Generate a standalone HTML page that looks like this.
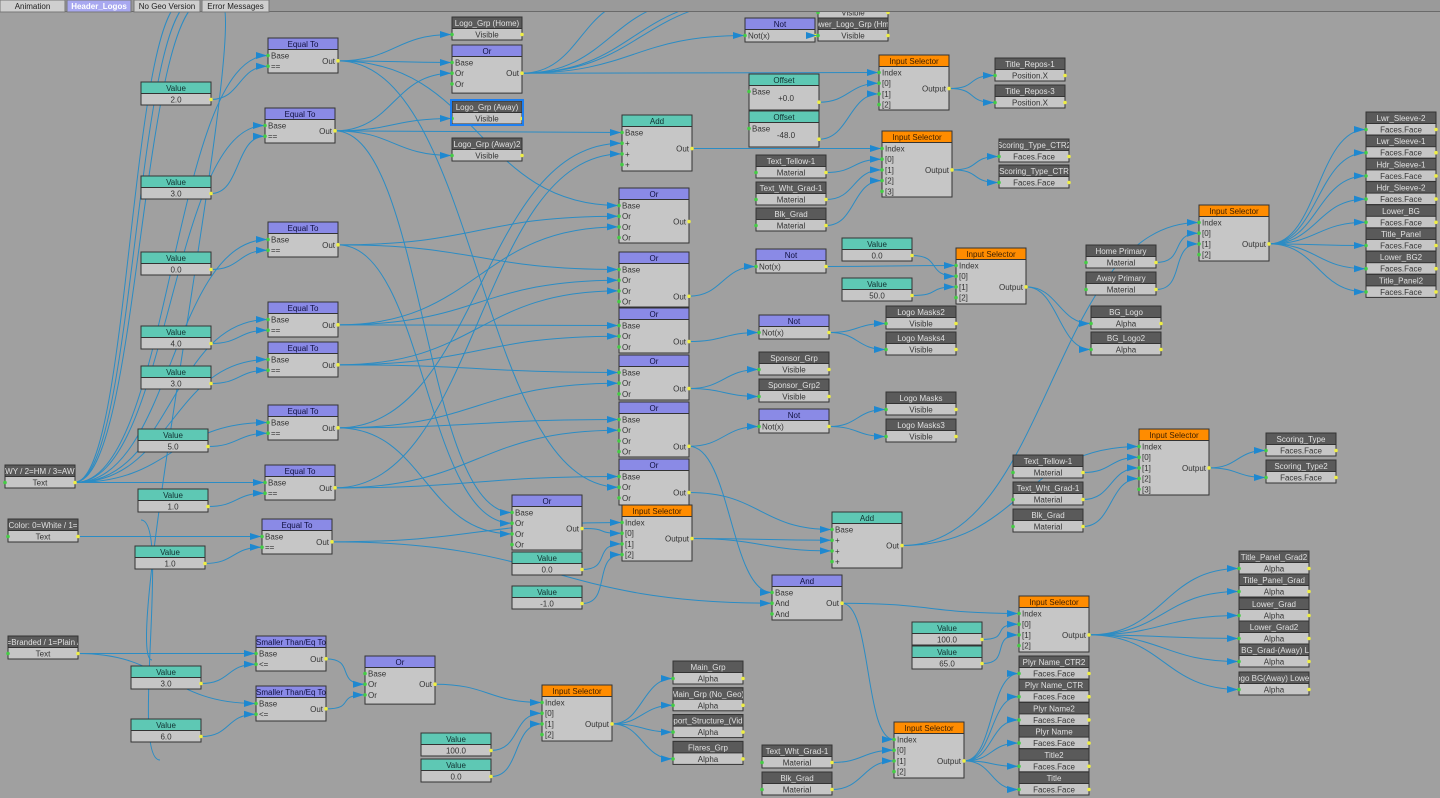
<!DOCTYPE html>
<html><head><meta charset="utf-8"><style>
html,body{margin:0;padding:0;background:#a0a0a0;width:1440px;height:798px;overflow:hidden}
svg{display:block;font-family:"Liberation Sans",sans-serif}
</style></head><body>
<svg id="s" width="1440" height="798" xmlns="http://www.w3.org/2000/svg"></svg>
<script>
const S=document.getElementById('s');
let wires='',nodesSvg='',arrows='',clips='';let cid=0;
const N={};
const HC={p:'#8a8ae6',t:'#5ec8b4',o:'#ff8c00',d:'#5a5a5a'};
const TC={p:'#101040',t:'#103030',o:'#402000',d:'#e0e0e0'};
function esc(s){return s.replace(/&/g,'&amp;').replace(/</g,'&lt;')}
function clip(x,y,w,h){cid++;clips+=`<clipPath id="c${cid}"><rect x="${x}" y="${y}" width="${w}" height="${h}"/></clipPath>`;return `clip-path="url(#c${cid})"`;}
function sn(id,x,y,k,title,body,w){w=w||70;N[id]={x,y,w,simple:true};
 nodesSvg+=`<rect x="${x}" y="${y}" width="${w}" height="23" fill="#c6c6c6" stroke="#333"/>`+
 `<rect x="${x}" y="${y}" width="${w}" height="11.5" fill="${HC[k]}" stroke="#333"/>`+
 `<text ${clip(x,y,w,12)} x="${x+w/2}" y="${y+9}" font-size="8" text-anchor="middle" fill="${TC[k]}">${esc(title)}</text>`+
 `<text x="${x+w/2}" y="${y+20.5}" font-size="8" text-anchor="middle" fill="#333">${esc(body)}</text>`+
 `<circle cx="${x+w}" cy="${y+17.5}" r="1.8" fill="#ee4"/>`+(k=='d'||k=='p'?`<circle cx="${x}" cy="${y+17.5}" r="1.8" fill="#4c4"/>`:'');}
function on(id,x,y,k,title,rows,outRow,outLbl,h,w){w=w||70;const n=rows.length;h=h||(12+n*10.7+4);N[id]={x,y,w,simple:false,out:outRow};
 nodesSvg+=`<rect x="${x}" y="${y}" width="${w}" height="${h}" fill="#c6c6c6" stroke="#333"/>`+
 `<rect x="${x}" y="${y}" width="${w}" height="11.5" fill="${HC[k]}" stroke="#333"/>`+
 `<text ${clip(x,y,w,12)} x="${x+w/2}" y="${y+9}" font-size="8" text-anchor="middle" fill="${TC[k]}">${esc(title)}</text>`;
 rows.forEach((r,i)=>{const ry=y+17.5+i*10.7;nodesSvg+=`<circle cx="${x}" cy="${ry}" r="1.8" fill="#4c4"/><text x="${x+3}" y="${ry+3}" font-size="8" fill="#333">${esc(r)}</text>`;});
 const oy=y+17.5+outRow*10.7;
 nodesSvg+=`<text x="${x+w-3}" y="${oy+3}" font-size="8" text-anchor="end" fill="#333">${outLbl}</text><circle cx="${x+w}" cy="${oy}" r="1.8" fill="#ee4"/>`;}
function op(id){const n=N[id];return n.simple?[n.x+n.w,n.y+17.5]:[n.x+n.w,n.y+17.5+n.out*10.7];}
function ip(id,r){const n=N[id];return n.simple?[n.x,n.y+17.5]:[n.x,n.y+17.5+(r||0)*10.7];}
function w(a,b,r){const p=op(a),q=ip(b,r);const dx=Math.max(30,Math.abs(q[0]-p[0])*0.5);
 wires+=`<path d="M${p[0]} ${p[1]} C${p[0]+dx} ${p[1]} ${q[0]-dx} ${q[1]} ${q[0]} ${q[1]}"/>`;
 arrows+=`<polygon points="${q[0]-12},${q[1]-3.5} ${q[0]-1},${q[1]} ${q[0]-12},${q[1]+3.5}"/>`;}
function wp(p,q){const dx=Math.max(30,Math.abs(q[0]-p[0])*0.5);wires+=`<path d="M${p[0]} ${p[1]} C${p[0]+dx} ${p[1]} ${q[0]-dx} ${q[1]} ${q[0]} ${q[1]}"/>`;}

sn('t1',5,465,'d','AWY / 2=HM / 3=AWY','Text');
sn('t2',8,519,'d','Color: 0=White / 1=','Text');
sn('t3',8,636,'d','=Branded / 1=Plain /','Text');
sn('v1',141,82,'t','Value','2.0');sn('v2',141,176,'t','Value','3.0');sn('v3',141,252,'t','Value','0.0');
sn('v4',141,326,'t','Value','4.0');sn('v5',141,366,'t','Value','3.0');sn('v6',138,429,'t','Value','5.0');
sn('v7',138,489,'t','Value','1.0');sn('v8',135,546,'t','Value','1.0');sn('v9',131,666,'t','Value','3.0');sn('v10',131,719,'t','Value','6.0');
const E=['Base','=='];
on('e1',268,38,'p','Equal To',E,0.5,'Out',35);on('e2',265,108,'p','Equal To',E,0.5,'Out',35);
on('e3',268,222,'p','Equal To',E,0.5,'Out',35);on('e4',268,302,'p','Equal To',E,0.5,'Out',35);
on('e5',268,342,'p','Equal To',E,0.5,'Out',35);on('e6',268,405,'p','Equal To',E,0.5,'Out',35);
on('e7',265,465,'p','Equal To',E,0.5,'Out',35);on('e8',262,519,'p','Equal To',E,0.5,'Out',35);
on('s1',256,636,'p','Smaller Than/Eq To',['Base','<='],0.5,'Out',35);
on('s2',256,686,'p','Smaller Than/Eq To',['Base','<='],0.5,'Out',35);
on('o0',365,656,'p','Or',['Base','Or','Or'],1,'Out');
sn('top1',452,-12,'d','','Visible');
sn('lh',452,17,'d','Logo_Grp (Home)','Visible');
on('o1',452,45,'p','Or',['Base','Or','Or'],1,'Out');
sn('la',452,101,'d','Logo_Grp (Away)','Visible');
sn('la2',452,138,'d','Logo_Grp (Away)2','Visible');
on('a1',622,115,'t','Add',['Base','+','+','+'],1.5,'Out',56);
on('r1',619,188,'p','Or',['Base','Or','Or','Or'],1.5,'Out',55);
on('r2',619,252,'p','Or',['Base','Or','Or','Or'],2.5,'Out',55);
on('r3',619,308,'p','Or',['Base','Or','Or'],1.5,'Out',45);
on('r4',619,355,'p','Or',['Base','Or','Or'],1.5,'Out',45);
on('r5',619,402,'p','Or',['Base','Or','Or','Or'],2.5,'Out',55);
on('r6',619,459,'p','Or',['Base','Or','Or'],1.5,'Out',46);
on('r7',512,495,'p','Or',['Base','Or','Or','Or'],1.5,'Out',55);
on('is1',622,505,'o','Input Selector',['Index',' [0]',' [1]',' [2]'],1.5,'Output',56);
sn('v11',512,552,'t','Value','0.0');sn('v12',512,586,'t','Value','-1.0');
on('a2',832,512,'t','Add',['Base','+','+','+'],1.5,'Out',56);
on('and',772,575,'p','And',['Base','And','And'],1,'Out',45);
sn('top2',745,-12,'d','','Visible');
on('n0',745,18,'p','Not',['Not(x)'],0,'',24);
sn('top3',818,-5,'d','','Visible');
sn('lw',818,18,'d','ower_Logo_Grp (Hm)','Visible');
on('of1',749,74,'t','Offset',['Base'],1,'',36);
on('of2',749,111,'t','Offset',['Base'],1,'',36);
nodesSvg+=`<text x="786" y="101" font-size="8" text-anchor="middle" fill="#333">+0.0</text><text x="786" y="138" font-size="8" text-anchor="middle" fill="#333">-48.0</text>`;
on('is2',879,55,'o','Input Selector',['Index',' [0]',' [1]',' [2]'],1.5,'Output',55);
sn('tr1',995,58,'d','Title_Repos-1','Position.X');sn('tr3',995,85,'d','Title_Repos-3','Position.X');
sn('m1',756,155,'d','Text_Tellow-1','Material');sn('m2',756,182,'d','Text_Wht_Grad-1','Material');sn('m3',756,208,'d','Blk_Grad','Material');
on('is3',882,131,'o','Input Selector',['Index',' [0]',' [1]',' [2]',' [3]'],2,'Output',66);
sn('sc2',999,139,'d','Scoring_Type_CTR2','Faces.Face');sn('sc1',999,165,'d','Scoring_Type_CTR','Faces.Face');
on('n1',756,249,'p','Not',['Not(x)'],0,'',24);
sn('v13',842,238,'t','Value','0.0');sn('v14',842,278,'t','Value','50.0');
on('is4',956,248,'o','Input Selector',['Index',' [0]',' [1]',' [2]'],2,'Output',56);
sn('bg1',1091,306,'d','BG_Logo','Alpha');sn('bg2',1091,332,'d','BG_Logo2','Alpha');
on('n2',759,315,'p','Not',['Not(x)'],0,'',24);
sn('lm2',886,306,'d','Logo Masks2','Visible');sn('lm4',886,332,'d','Logo Masks4','Visible');
sn('sp1',759,352,'d','Sponsor_Grp','Visible');sn('sp2',759,379,'d','Sponsor_Grp2','Visible');
on('n3',759,409,'p','Not',['Not(x)'],0,'',24);
sn('lm',886,392,'d','Logo Masks','Visible');sn('lm3',886,419,'d','Logo Masks3','Visible');
sn('hp',1086,245,'d','Home Primary','Material');sn('ap',1086,272,'d','Away Primary','Material');
on('is5',1199,205,'o','Input Selector',['Index',' [0]',' [1]',' [2]'],2,'Output',56);
const fs=['Lwr_Sleeve-2','Lwr_Sleeve-1','Hdr_Sleeve-1','Hdr_Sleeve-2','Lower_BG','Title_Panel','Lower_BG2','Title_Panel2'];
fs.forEach((t,i)=>sn('f'+i,1366,112+i*23.2,'d',t,'Faces.Face'));
sn('m4',1013,455,'d','Text_Tellow-1','Material');sn('m5',1013,482,'d','Text_Wht_Grad-1','Material');sn('m6',1013,509,'d','Blk_Grad','Material');
on('is6',1139,429,'o','Input Selector',['Index',' [0]',' [1]',' [2]',' [3]'],2,'Output',66);
sn('st1',1266,433,'d','Scoring_Type','Faces.Face');sn('st2',1266,460,'d','Scoring_Type2','Faces.Face');
sn('v15',912,622,'t','Value','100.0');sn('v16',912,646,'t','Value','65.0');
on('is7',1019,596,'o','Input Selector',['Index',' [0]',' [1]',' [2]'],2,'Output',56);
const al=['Title_Panel_Grad2','Title_Panel_Grad','Lower_Grad','Lower_Grad2','o BG_Grad-(Away) Lo','ogo BG(Away) Lower'];
const aly=[551,574,598,621,644,672];
al.forEach((t,i)=>sn('al'+i,1239,aly[i],'d',t,'Alpha'));
on('is8',894,722,'o','Input Selector',['Index',' [0]',' [1]',' [2]'],2,'Output',56);
sn('m7',762,745,'d','Text_Wht_Grad-1','Material');sn('m8',762,772,'d','Blk_Grad','Material');
const pn=['Plyr Name_CTR2','Plyr Name_CTR','Plyr Name2','Plyr Name','Title2','Title'];
pn.forEach((t,i)=>sn('pn'+i,1019,656+i*23.2,'d',t,'Faces.Face'));
on('is9',542,685,'o','Input Selector',['Index',' [0]',' [1]',' [2]'],2,'Output',56);
sn('v17',421,733,'t','Value','100.0');sn('v18',421,759,'t','Value','0.0');
const mg=['Main_Grp','Main_Grp (No_Geo)','pport_Structure_(Vide','Flares_Grp'];
mg.forEach((t,i)=>sn('mg'+i,673,661+i*26.8,'d',t,'Alpha'));

['e1','e2','e3','e4','e5','e6','e7'].forEach(e=>w('t1',e,0));
[['v1','e1'],['v2','e2'],['v3','e3'],['v4','e4'],['v5','e5'],['v6','e6'],['v7','e7'],['v8','e8']].forEach(a=>w(a[0],a[1],1));
w('t2','e8',0);w('t3','s1',0);w('t3','s2',0);w('v9','s1',1);w('v10','s2',1);
w('s1','o0',1);w('s2','o0',2);w('o0','is9',0);w('v17','is9',1);w('v18','is9',2);
mg.forEach((t,i)=>w('is9','mg'+i));
wp([75,482],[185,0]);wp([75,482],[195,0]);wp([75,482],[205,0]);
w('e1','lh');w('e1','o1',0);w('e2','o1',1);w('e2','la');w('e2','la2');w('e1','r1',0);w('e2','a1',0);
w('e3','r1',1);w('e3','r2',0);w('e4','r2',1);w('e4','r3',0);w('e5','r3',1);w('e5','r4',0);w('e6','r4',1);w('e6','r5',0);
w('e7','r5',1);w('e7','r6',0);w('e2','r7',0);w('e3','r7',1);w('e6','r7',2);w('e4','r1',2);w('e5','r2',2);w('e1','r6',1);w('e6','a1',1);w('e7','a1',2);
w('o1','n0');w('o1','is2',0);wp(op('o1'),[745,0]);wp(op('o1'),[760,0]);wp(op('o1'),[700,0]);wp(op('o1'),[640,0]);
w('n0','lw');wp(op('n0'),[880,6]);
w('of1','is2',1);w('of2','is2',2);w('is2','tr1');w('is2','tr3');
w('a1','is3',0);w('m1','is3',1);w('m2','is3',2);w('m3','is3',3);w('is3','sc2');w('is3','sc1');
w('r2','n1');w('n1','is4',0);w('v13','is4',1);w('v14','is4',2);w('is4','bg1');w('is4','bg2');
w('r3','n2');w('n2','lm2');w('n2','lm4');w('r4','sp1');w('r4','sp2');w('r5','n3');w('n3','lm');w('n3','lm3');
w('hp','is5',1);w('ap','is5',2);w('a2','is5',0);fs.forEach((t,i)=>w('is5','f'+i));
w('r6','a2',0);w('is1','a2',1);w('is1','a2',2);
w('a2','is6',0);w('m4','is6',1);w('m5','is6',2);w('m6','is6',3);w('is6','st1');w('is6','st2');
w('e8','is1',0);w('r7','is1',1);w('v11','is1',2);w('v12','is1',3);w('e8','and',1);w('r5','and',0);
w('and','is7',0);w('v15','is7',1);w('v16','is7',2);al.forEach((t,i)=>w('is7','al'+i));
w('and','is8',0);w('m7','is8',1);w('m8','is8',2);pn.forEach((t,i)=>w('is8','pn'+i));
wp([141,520],[160,760]);wp([220,0],[152,660]);

let tabs=`<rect x="0" y="0" width="1440" height="12" fill="#9a9a9a"/><line x1="0" y1="11.5" x2="1440" y2="11.5" stroke="#6a6a6a"/>`;
[[0,65,'Animation',0],[67,64,'Header_Logos',1],[134,66,'No Geo Version',0],[202,67,'Error Messages',0]].forEach(t=>{
 tabs+=`<rect x="${t[0]}" y="0" width="${t[1]}" height="12" fill="${t[3]?'#a8a8f0':'#cfcfcf'}" stroke="#777"/><text x="${t[0]+t[1]/2}" y="9" font-size="8" text-anchor="middle" fill="${t[3]?'#fff':'#222'}" font-weight="${t[3]?'bold':'normal'}">${t[2]}</text>`;});
S.innerHTML=`<defs>${clips}</defs><g fill="none" stroke="#2b8cc4" stroke-width="1">${wires}</g>${nodesSvg}<rect x="451" y="100" width="72" height="25" fill="none" stroke="#1e7ff0" stroke-width="2"/><g fill="#1e88d0">${arrows}</g>${tabs}`;
</script>
</body></html>
